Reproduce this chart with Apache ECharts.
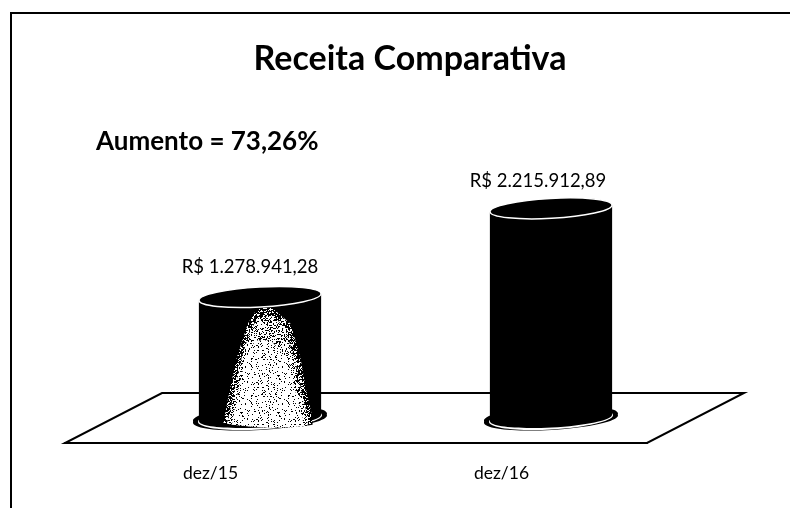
<!DOCTYPE html>
<html><head><meta charset="utf-8">
<style>html,body{margin:0;padding:0;background:#fff}#c{width:790px;height:508px}</style>
<script src="https://cdn.jsdelivr.net/npm/echarts@6/dist/echarts.min.js"></script>
</head><body><div id="c"></div>
<script>
var categories = ['dez/15', 'dez/16'];
var receita = [1278941.28, 2215912.89];
var highlight = [1, 0];
var titleText = 'Receita Comparativa';
var noteText = 'Aumento = 73,26%';

var FONT = 'Lato, "Open Sans", sans-serif';
var DEPTH_X = 97, DEPTH_Y = 50, TILT = 0.055;
var labelDx = [-10, -13], labelDy = [-20, -17];

function brl(v) {
  return 'R$ ' + v.toLocaleString('pt-BR', {minimumFractionDigits: 2, maximumFractionDigits: 2});
}

// fixed hash-based grain tile for the scanned halftone of the lit column
function grain(density) {
  var s = 37, cv = document.createElement('canvas');
  cv.width = cv.height = s;
  var g = cv.getContext('2d');
  g.fillStyle = '#fff'; g.fillRect(0, 0, s, s);
  g.fillStyle = '#000';
  for (var y = 0; y < s; y++) for (var x = 0; x < s; x++) {
    var h = Math.abs(Math.sin(x * 12.9898 + y * 78.233) * 43758.5453) % 1;
    if (h < density) g.fillRect(x, y, 1, 1);
  }
  return {image: cv, repeat: 'repeat'};
}
var heavy = grain(0.62), medium = grain(0.3), light = grain(0.1);

function renderFloor(params, api) {
  var c = params.coordSys, x0 = c.x, x1 = c.x + c.width, y = c.y + c.height;
  return {type: 'polygon', silent: true,
    shape: {points: [[x0, y], [x1, y], [x1 + DEPTH_X, y - DEPTH_Y], [x0 + DEPTH_X, y - DEPTH_Y]]},
    style: {fill: '#fff', stroke: '#000', lineWidth: 2}};
}

// outline of the lit area: left / right offsets (fractions of rx) at heights down the body
function litShape(cx, rx, ry, yT, yB, prof) {
  var pts = [];
  prof.forEach(function (p) { pts.push([cx + p[1] * rx, yT + p[0] * (yB - yT)]); });
  var l = prof[prof.length - 1][2], r = prof[prof.length - 1][1], n = 8;
  for (var i = 0; i <= n; i++) {
    var u = r + (l - r) * i / n;
    pts.push([cx + u * rx, yB + ry * Math.sqrt(1 - u * u) - 1 + u * 3]);
  }
  for (var j = prof.length - 2; j >= 0; j--) pts.push([cx + prof[j][2] * rx, yT + prof[j][0] * (yB - yT)]);
  return pts;
}
// rows: [fraction of height, right offset, left offset]
var litOuter = [[0.09, 0.20, -0.04], [0.22, 0.50, -0.20], [0.5, 0.66, -0.38], [0.78, 0.76, -0.50], [1, 0.86, -0.60]];
var litMiddle = [[0.16, 0.24, -0.02], [0.28, 0.42, -0.16], [0.5, 0.56, -0.30], [0.78, 0.68, -0.42], [1, 0.78, -0.54]];
var litInner = [[0.36, 0.18, -0.08], [0.52, 0.46, -0.24], [0.78, 0.58, -0.36], [1, 0.70, -0.46]];

function renderCylinder(params, api) {
  var idx = api.value(0), top = api.coord([idx, api.value(1)]), base = api.coord([idx, 0]);
  var band = api.size([1, 0])[0];
  var rx = band * 0.21, ry = 10;
  var cx = base[0] + DEPTH_X / 2 + 1, yB = base[1] - DEPTH_Y / 2, yT = top[1] - DEPTH_Y / 2;
  var lean = rx * TILT;
  var tilted = function (o, x, y) { o.rotation = TILT; o.originX = x; o.originY = y; return o; };
  var kids = [
    tilted({type: 'ellipse', shape: {cx: cx, cy: yB + 1, rx: rx + 6, ry: ry + 1}, style: {fill: '#000'}}, cx, yB + 1),
    tilted({type: 'ellipse', shape: {cx: cx, cy: yB - 1, rx: rx + 6, ry: ry + 1}, style: {fill: '#000'}}, cx, yB - 1),
    tilted({type: 'ellipse', shape: {cx: cx, cy: yB + 0.5, rx: rx + 1, ry: ry + 1}, style: {fill: '#fff'}}, cx, yB),
    tilted({type: 'ellipse', shape: {cx: cx, cy: yB, rx: rx, ry: ry - 0.5}, style: {fill: '#000'}}, cx, yB),
    {type: 'polygon', shape: {points: [[cx - rx, yT + lean], [cx + rx, yT - lean], [cx + rx, yB - lean], [cx - rx, yB + lean]]},
      style: {fill: '#000'}}
  ];
  if (api.value(2)) {
    kids.push({type: 'polygon', shape: {points: litShape(cx, rx, ry, yT, yB, litOuter)}, style: {fill: heavy}});
    kids.push({type: 'polygon', shape: {points: litShape(cx, rx, ry, yT, yB, litMiddle)}, style: {fill: medium}});
    kids.push({type: 'polygon', shape: {points: litShape(cx, rx, ry, yT, yB, litInner)}, style: {fill: light}});
  }
  kids.push(
    tilted({type: 'ellipse', shape: {cx: cx, cy: yT, rx: rx, ry: ry}, style: {fill: '#000', stroke: '#fff', lineWidth: 1.5}}, cx, yT),
    {type: 'text', style: {x: cx + labelDx[idx], y: yT - ry + labelDy[idx], text: brl(api.value(1)), fill: '#000',
      font: '18.5px ' + FONT, textAlign: 'center', textVerticalAlign: 'middle'}}
  );
  return {type: 'group', children: kids};
}

var chart = echarts.init(document.getElementById('c'), null, {renderer: 'canvas'});
chart.setOption({
  animation: false,
  backgroundColor: '#fff',
  title: [
    {text: titleText, left: 410, top: 59, padding: 0, textAlign: 'center', textVerticalAlign: 'middle',
      textStyle: {fontFamily: FONT, fontWeight: 'bold', fontSize: 34, color: '#000'}},
    {text: noteText, left: 96, top: 142, padding: 0, textVerticalAlign: 'middle',
      textStyle: {fontFamily: FONT, fontWeight: 'bold', fontSize: 26, color: '#000'}}
  ],
  grid: {left: 65, right: 143, top: 206.5, bottom: 65},
  xAxis: {type: 'category', data: categories,
    axisLine: {show: true, lineStyle: {color: '#000', width: 2}},
    axisTick: {show: false},
    axisLabel: {color: '#000', fontFamily: FONT, fontSize: 17.5, margin: 21}},
  yAxis: {type: 'value', min: 0, max: 2500000, show: false},
  series: [
    {type: 'custom', coordinateSystem: 'cartesian2d', renderItem: renderFloor, silent: true,
      data: [[0, 0]], encode: {x: 0, y: 1}, z: 1},
    {type: 'custom', coordinateSystem: 'cartesian2d', renderItem: renderCylinder, silent: true,
      data: receita.map(function (v, i) { return [i, v, highlight[i]]; }),
      encode: {x: 0, y: 1}, clip: false, z: 2}
  ],
  graphic: [
    {type: 'polyline', silent: true, shape: {points: [[11, 508], [11, 13], [790, 13]]},
      style: {fill: 'none', stroke: '#000', lineWidth: 2}}
  ]
});
</script></body></html>
